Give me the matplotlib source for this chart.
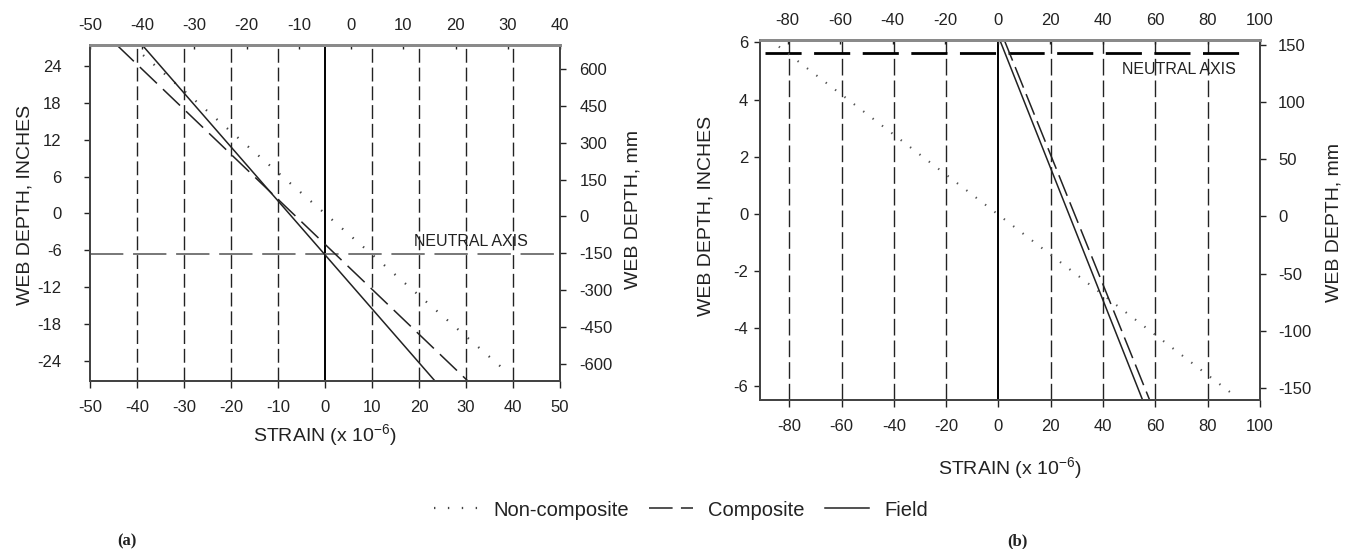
# Se importan las librerias necesarias
import matplotlib
matplotlib.use('Agg')
import matplotlib.pyplot as plt

plt.rcParams['font.family'] = ['Liberation Sans', 'DejaVu Sans']
plt.rcParams['mathtext.default'] = 'regular'
plt.rcParams['axes.unicode_minus'] = False
plt.rcParams['lines.scale_dashes'] = False

# ---- Datos (a) ----
prof_lim_a = [-27.3, 27.45]        # profundidad del alma, pulgadas
mm_lim_a = [-670, 698]             # profundidad del alma, mm
strain_lim_a = [-50, 50]
strain_top_lim_a = [-50, 40]
yticks_a = [-24, -18, -12, -6, 0, 6, 12, 18, 24]
mmticks_a = [-600, -450, -300, -150, 0, 150, 300, 450, 600]
xticks_a = [-50, -40, -30, -20, -10, 0, 10, 20, 30, 40, 50]
xticks_top_a = [-50, -40, -30, -20, -10, 0, 10, 20, 30, 40]
guias_a = [-40, -30, -20, -10, 10, 20, 30, 40]
prof_a = [27.45, -27.3]
field_a = [-38.9, 23.4]
composite_a = [-44.3, 30.4]
prof_nc_a = [25.8, -25.1]
noncomp_a = [-38.7, 37.6]
neutral_a = -6.6
texto_na_a = (31, -4.5)

# ---- Datos (b) ----
prof_lim_b = [-6.5, 6.08]
mm_lim_b = [-160.5, 154]
strain_lim_b = [-91.2, 100]
strain_top_lim_b = [-90.5, 98]
yticks_b = [-6, -4, -2, 0, 2, 4, 6]
mmticks_b = [-150, -100, -50, 0, 50, 100, 150]
xticks_b = [-80, -60, -40, -20, 0, 20, 40, 60, 80, 100]
xticks_top_b = [-80, -60, -40, -20, 0, 20, 40, 60, 80, 100]
guias_b = [-80, -60, -40, -20, 20, 40, 60, 80]
prof_b = [6.08, -6.5]
field_b = [0.5, 55.1]
composite_b = [2.2, 57.8]
prof_nc_b = [5.85, -6.27]
noncomp_b = [-84.0, 89.2]
neutral_b = 5.64
texto_na_b = (69, 5.06)

W, H = 1345, 549
tinta = '#222222'
fs_tick = 12
fs_lab = 14


def caja(x0, y0, x1, y1):
    # convierte pixeles de la imagen a coordenadas de figura
    return [x0 / W, 1 - y1 / H, (x1 - x0) / W, (y1 - y0) / H]


def panel(rect, xl, xtl, yl, ml, xt, xtt, yt, mt, guias, pad_izq, pad_der, dash_guia):
    ax = fig.add_axes(rect)
    ax.set_xlim(xl)
    ax.set_ylim(yl)
    ax.set_xticks(xt)
    ax.set_yticks(yt)
    ax.tick_params(axis='x', direction='out', length=5, width=1, colors=tinta,
                   labelsize=fs_tick, pad=9)
    ax.tick_params(axis='y', direction='out', length=4.5, width=1, colors=tinta,
                   labelsize=fs_tick, pad=pad_izq)
    # lineas guia verticales
    for g in guias:
        ax.axvline(g, color=tinta, lw=1.0, linestyle=(0, dash_guia), zorder=1)
    ax.axvline(0, color='black', lw=1.4, zorder=1)
    # eje superior
    axt = ax.twiny()
    axt.set_xlim(xtl)
    axt.set_xticks(xtt)
    axt.tick_params(axis='x', direction='in', length=3, width=1, colors=tinta,
                    labelsize=fs_tick, pad=8.5)
    # eje derecho en mm
    axr = ax.twinx()
    axr.set_ylim(ml)
    axr.set_yticks(mt)
    axr.tick_params(axis='y', direction='out', length=4, width=1, colors=tinta,
                    labelsize=fs_tick, pad=pad_der)
    for a in (ax, axt, axr):
        for s in a.spines.values():
            s.set_color('#444444')
            s.set_linewidth(1.2)
        a.spines['top'].set_color('#8a8a8a')
        a.spines['top'].set_linewidth(2.0)
    return ax


fig = plt.figure(figsize=(W / 100, H / 100), dpi=100)

# ---------------- (a) ----------------
ax1 = panel(caja(90, 45, 560, 381), strain_lim_a, strain_top_lim_a, prof_lim_a, mm_lim_a,
            xticks_a, xticks_top_a, yticks_a, mmticks_a, guias_a, 16, 10, (10, 3.5))
ax1.axhline(neutral_a, color='#777777', lw=1.4, linestyle=(0, (24, 7)), zorder=2)
l_nc, = ax1.plot(noncomp_a, prof_nc_a, color='#444444', lw=1.6,
                 linestyle=(0, (1.0, 9.0)), label='Non-composite', zorder=3)
l_c, = ax1.plot(composite_a, prof_a, color=tinta, lw=1.1,
                linestyle=(0, (17, 6)), label='Composite', zorder=3)
l_f, = ax1.plot(field_a, prof_a, color=tinta, lw=1.1, label='Field', zorder=3)
ax1.text(texto_na_a[0], texto_na_a[1], 'NEUTRAL AXIS', fontsize=11.5, color=tinta,
         ha='center', va='center', zorder=4)

# ---------------- (b) ----------------
ax2 = panel(caja(760, 40, 1260, 400), strain_lim_b, strain_top_lim_b, prof_lim_b, mm_lim_b,
            xticks_b, xticks_top_b, yticks_b, mmticks_b, guias_b, 4, 9, (12, 3.6))
ax2.plot([strain_lim_b[0] + 2, strain_lim_b[1] - 5], [neutral_b, neutral_b], color='black',
         lw=2.0, linestyle=(0, (26, 9)), zorder=2)
ax2.plot(noncomp_b, prof_nc_b, color='#555555', lw=1.5, linestyle=(0, (1.0, 7.5)), zorder=3)
ax2.plot(composite_b, prof_b, color=tinta, lw=1.1, linestyle=(0, (16, 5)), zorder=3)
ax2.plot(field_b, prof_b, color=tinta, lw=1.1, zorder=3)
ax2.text(texto_na_b[0], texto_na_b[1], 'NEUTRAL AXIS', fontsize=11.5, color=tinta,
         ha='center', va='center', zorder=4)

# etiquetas de ejes
fig.text(325 / W, 1 - 435 / H, 'STRAIN (x 10$^{-6}$)', fontsize=fs_lab, color=tinta,
         ha='center', va='center')
fig.text(1010 / W, 1 - 468 / H, 'STRAIN (x 10$^{-6}$)', fontsize=fs_lab, color=tinta,
         ha='center', va='center')
fig.text(25 / W, 1 - 205 / H, 'WEB DEPTH, INCHES', fontsize=fs_lab, color=tinta,
         rotation=90, ha='center', va='center')
fig.text(633 / W, 1 - 209 / H, 'WEB DEPTH, mm', fontsize=fs_lab, color=tinta,
         rotation=90, ha='center', va='center')
fig.text(706 / W, 1 - 216 / H, 'WEB DEPTH, INCHES', fontsize=fs_lab, color=tinta,
         rotation=90, ha='center', va='center')
fig.text(1334 / W, 1 - 222 / H, 'WEB DEPTH, mm', fontsize=fs_lab, color=tinta,
         rotation=90, ha='center', va='center')

# leyenda comun
fig.legend(handles=[l_nc, l_c, l_f], loc='center', bbox_to_anchor=(681 / W, 1 - 510 / H),
           ncol=3, frameon=False, fontsize=14.5, handlelength=2.2, handletextpad=0.75,
           columnspacing=1.0, labelcolor=tinta)

fig.text(127 / W, 1 - 541 / H, '(a)', fontsize=12, fontweight='bold',
         family=['Liberation Serif', 'DejaVu Serif'], ha='center', va='center', color=tinta)
fig.text(1017 / W, 1 - 541 / H, '(b)', fontsize=12, fontweight='bold',
         family=['Liberation Serif', 'DejaVu Serif'], ha='center', va='center', color=tinta)

fig.savefig('out.png', dpi=100, facecolor='white')
plt.close()
